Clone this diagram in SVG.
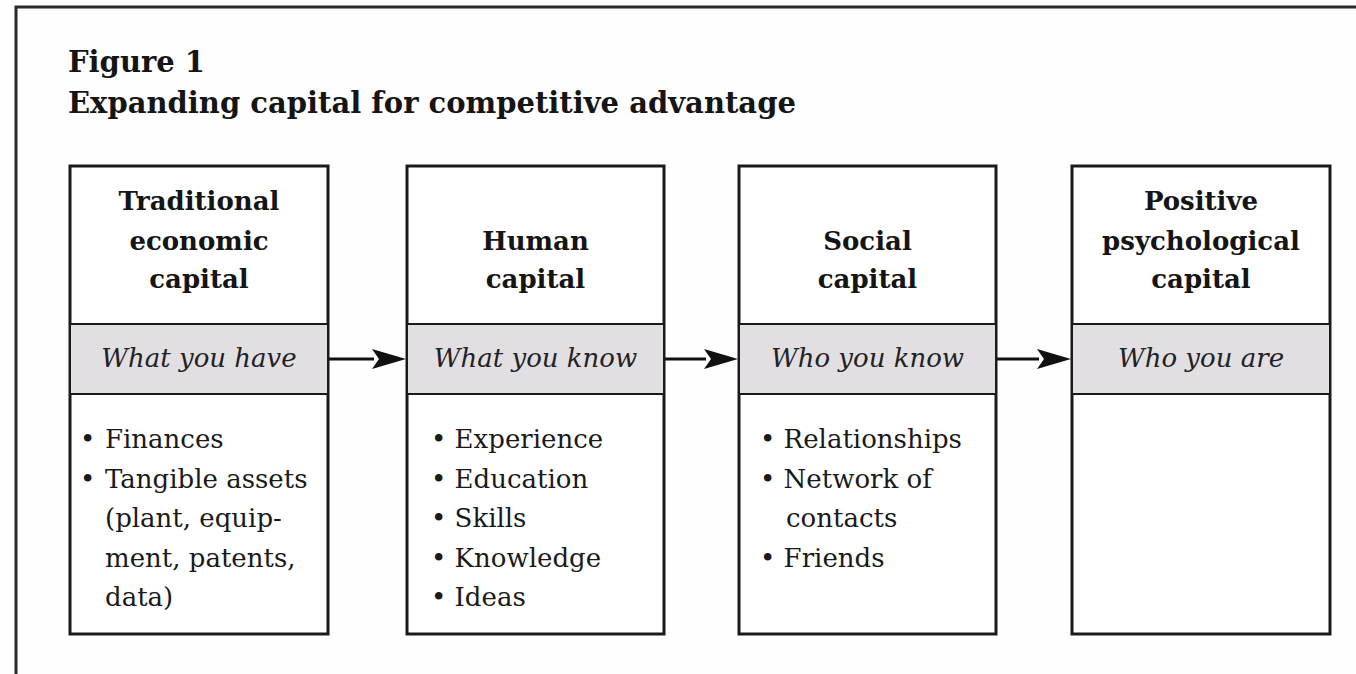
<svg xmlns="http://www.w3.org/2000/svg" width="1356" height="674" viewBox="0 0 1356 674">
<style>
.title{font-family:"DejaVu Serif",serif;font-weight:bold;font-size:29px;fill:#151515}
.hd{font-family:"DejaVu Serif",serif;font-weight:bold;font-size:26px;fill:#151515;text-anchor:middle}
.it{font-family:"DejaVu Serif",serif;font-style:italic;font-size:26px;fill:#222;text-anchor:middle}
.li{font-family:"DejaVu Serif",serif;font-size:26px;fill:#1a1a1a}
.box{fill:#fff;stroke:#1a1a1a;stroke-width:3}
.band{fill:#e2dfe2;stroke:#1a1a1a;stroke-width:2}
.conn{stroke:#111;stroke-width:3;fill:none}
.ah{fill:#111}
</style>
<rect width="1356" height="674" fill="#fefefe"/>
<path d="M16,674 L16,7 L1356,7" fill="none" stroke="#2a2a2a" stroke-width="3"/>
<g id="title">
<text class="title" x="68" y="72">Figure 1</text>
<text class="title" x="68" y="113">Expanding capital for competitive advantage</text>
</g>
<g id="connectors">
<line class="conn" x1="329" y1="359" x2="374" y2="359"/>
<path class="ah" d="M372,349 L406,359 L372,369 L379,359 Z"/>
<line class="conn" x1="665" y1="359" x2="706" y2="359"/>
<path class="ah" d="M704,349 L738,359 L704,369 L711,359 Z"/>
<line class="conn" x1="997" y1="359" x2="1039" y2="359"/>
<path class="ah" d="M1037,349 L1071,359 L1037,369 L1044,359 Z"/>
</g>
<g id="node1">
<rect class="box" x="70" y="166" width="258" height="468"/>
<rect class="band" x="70" y="324" width="258" height="70"/>
<text class="hd" x="199" y="210">Traditional</text>
<text class="hd" x="199" y="250">economic</text>
<text class="hd" x="199" y="288">capital</text>
<text class="it" x="199" y="367">What you have</text>
<text class="li" x="80" y="448">• <tspan x="105">Finances</tspan></text>
<text class="li" x="80" y="488">• <tspan x="105">Tangible assets</tspan></text>
<text class="li" x="105" y="527">(plant, equip-</text>
<text class="li" x="105" y="567">ment, patents,</text>
<text class="li" x="105" y="606">data)</text>
</g>
<g id="node2">
<rect class="box" x="407" y="166" width="257" height="468"/>
<rect class="band" x="407" y="324" width="257" height="70"/>
<text class="hd" x="535.5" y="250">Human</text>
<text class="hd" x="535.5" y="288">capital</text>
<text class="it" x="535.5" y="367">What you know</text>
<text class="li" x="431" y="448">• Experience</text>
<text class="li" x="431" y="488">• Education</text>
<text class="li" x="431" y="527">• Skills</text>
<text class="li" x="431" y="567">• Knowledge</text>
<text class="li" x="431" y="606">• Ideas</text>
</g>
<g id="node3">
<rect class="box" x="739" y="166" width="257" height="468"/>
<rect class="band" x="739" y="324" width="257" height="70"/>
<text class="hd" x="867.5" y="250">Social</text>
<text class="hd" x="867.5" y="288">capital</text>
<text class="it" x="867.5" y="367">Who you know</text>
<text class="li" x="760" y="448">• Relationships</text>
<text class="li" x="760" y="488">• Network of</text>
<text class="li" x="786" y="527">contacts</text>
<text class="li" x="760" y="567">• Friends</text>
</g>
<g id="node4">
<rect class="box" x="1072" y="166" width="258" height="468"/>
<rect class="band" x="1072" y="324" width="258" height="70"/>
<text class="hd" x="1201" y="210">Positive</text>
<text class="hd" x="1201" y="250">psychological</text>
<text class="hd" x="1201" y="288">capital</text>
<text class="it" x="1201" y="367">Who you are</text>
</g>
</svg>
